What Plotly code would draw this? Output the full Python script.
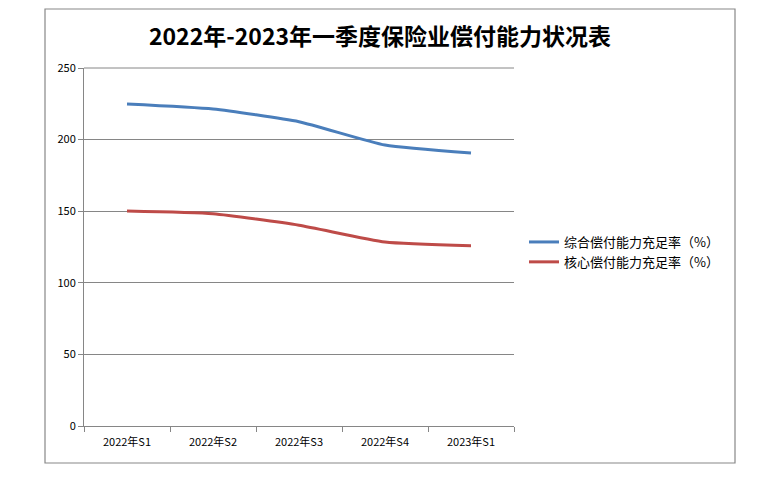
import plotly.graph_objects as go

categories = ["2022年S1", "2022年S2", "2022年S3", "2022年S4", "2023年S1"]
comprehensive = [224.9, 221.4, 212.5, 196.2, 190.6]
core = [150.1, 148.2, 140.2, 128.5, 125.8]
names = ["综合偿付能力充足率（%）", "核心偿付能力充足率（%）"]
title_text = "2022年-2023年一季度保险业偿付能力状况表"
y_ticks = [0, 50, 100, 150, 200, 250]

OFF = 8  # page body margin
W, H = 775 - OFF, 487 - OFF
L, R, T, B = 84 - OFF, 514 - OFF, 68 - OFF, 426 - OFF
pw, ph = R - L, B - T

font_cjk = "Noto Sans CJK SC, DejaVu Sans, sans-serif"

fig = go.Figure()
fig.add_trace(go.Scatter(x=categories, y=comprehensive, mode="lines", name=names[0],
                         line=dict(color="#4a7ebb", width=3, shape="spline", smoothing=0.5)))
fig.add_trace(go.Scatter(x=categories, y=core, mode="lines", name=names[1],
                         line=dict(color="#be4b48", width=3, shape="spline", smoothing=0.5)))

def px(x):
    return (x - OFF - L) / pw

def py(y):
    return (B - (y - OFF)) / ph

fig.update_layout(
    width=W, height=H,
    margin=dict(l=L, r=W - R, t=T, b=H - B),
    paper_bgcolor="white", plot_bgcolor="white",
    title=dict(text="<b>" + title_text + "</b>", x=(380 - OFF) / W, xanchor="center",
               y=1 - (37 - OFF) / H, yanchor="middle",
               font=dict(family=font_cjk, size=23, color="black")),
    showlegend=True,
    legend=dict(x=px(524), y=py(252), xanchor="left", yanchor="middle",
                font=dict(family=font_cjk, size=13, color="black"),
                bgcolor="rgba(0,0,0,0)", tracegroupgap=2, itemwidth=30),
    font=dict(family=font_cjk, size=11, color="black"),
    shapes=[dict(type="rect", xref="paper", yref="paper",
                 x0=px(45), x1=px(735), y0=py(463), y1=py(9),
                 line=dict(color="#888888", width=1.2), fillcolor="rgba(0,0,0,0)", layer="below")],
)
fig.update_xaxes(type="category", showline=True, linecolor="#868686", linewidth=1,
                 ticks="outside", tickson="boundaries", ticklen=5, tickcolor="#868686",
                 showgrid=False, tickfont=dict(size=11, color="black"), ticklabelstandoff=6,
                 range=[-0.5, 4.5], fixedrange=True)
fig.update_yaxes(range=[0, 250], tickvals=y_ticks, showline=True, linecolor="#868686",
                 linewidth=1, ticks="outside", ticklen=5, tickcolor="#868686",
                 showgrid=True, gridcolor="#868686", gridwidth=1, zeroline=False,
                 tickfont=dict(size=11, color="black"), fixedrange=True)
fig.add_shape(type="line", xref="paper", yref="paper", x0=0, x1=1, y0=1, y1=1,
              line=dict(color="#868686", width=1))

fig.write_html("out.html")
